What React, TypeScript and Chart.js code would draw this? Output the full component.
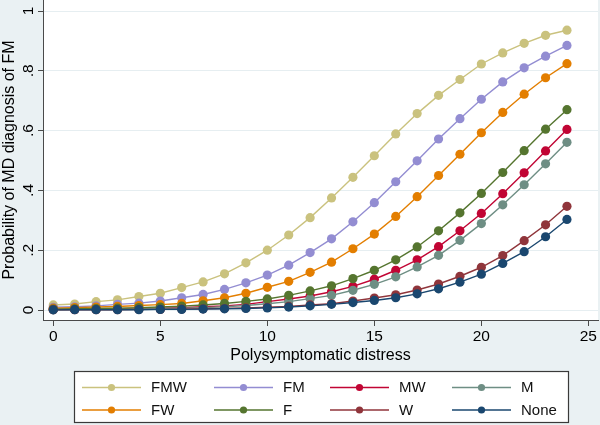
import React, { useEffect, useRef } from "react";
import { Chart, registerables } from "chart.js";

Chart.register(...registerables);

const distress = [0, 1, 2, 3, 4, 5, 6, 7, 8, 9, 10, 11, 12, 13, 14, 15, 16, 17, 18, 19, 20, 21, 22, 23, 24];

const fmw = [0.017, 0.020, 0.028, 0.034, 0.045, 0.056, 0.075, 0.094, 0.121, 0.158, 0.200, 0.251, 0.309, 0.375, 0.444, 0.516, 0.589, 0.657, 0.718, 0.771, 0.823, 0.860, 0.892, 0.919, 0.936];
const fm = [0.009, 0.011, 0.014, 0.019, 0.023, 0.030, 0.041, 0.052, 0.069, 0.091, 0.117, 0.150, 0.192, 0.238, 0.295, 0.359, 0.429, 0.499, 0.572, 0.640, 0.705, 0.763, 0.810, 0.849, 0.885];
const mw = [0.002, 0.002, 0.003, 0.004, 0.005, 0.006, 0.008, 0.011, 0.014, 0.019, 0.028, 0.037, 0.047, 0.061, 0.079, 0.103, 0.133, 0.168, 0.212, 0.265, 0.323, 0.389, 0.459, 0.532, 0.604];
const m = [0.001, 0.002, 0.002, 0.003, 0.004, 0.005, 0.006, 0.008, 0.011, 0.015, 0.021, 0.028, 0.038, 0.049, 0.066, 0.086, 0.111, 0.144, 0.183, 0.233, 0.289, 0.352, 0.419, 0.489, 0.561];
const fw = [0.006, 0.008, 0.010, 0.012, 0.015, 0.018, 0.022, 0.031, 0.041, 0.056, 0.076, 0.096, 0.126, 0.160, 0.205, 0.254, 0.313, 0.379, 0.450, 0.521, 0.593, 0.661, 0.722, 0.777, 0.824];
const f = [0.003, 0.004, 0.005, 0.006, 0.008, 0.010, 0.013, 0.017, 0.022, 0.029, 0.037, 0.049, 0.064, 0.081, 0.105, 0.133, 0.168, 0.211, 0.265, 0.325, 0.390, 0.460, 0.533, 0.605, 0.670];
const w = [0.001, 0.001, 0.001, 0.001, 0.002, 0.002, 0.003, 0.004, 0.005, 0.007, 0.009, 0.012, 0.017, 0.021, 0.030, 0.040, 0.051, 0.067, 0.087, 0.113, 0.143, 0.182, 0.232, 0.285, 0.347];
const none = [0.0005, 0.001, 0.001, 0.001, 0.001, 0.002, 0.002, 0.003, 0.004, 0.005, 0.007, 0.010, 0.014, 0.019, 0.025, 0.032, 0.041, 0.054, 0.071, 0.093, 0.120, 0.156, 0.195, 0.245, 0.303];

const seriesLabels = ["FMW", "FM", "MW", "M", "FW", "F", "W", "None"];
const seriesValues = [fmw, fm, mw, m, fw, f, w, none];
const seriesColors = ["#cac27e", "#938dd2", "#c10534", "#6e8e84", "#e37e00", "#55752f", "#90353b", "#1a476f"];

const xTicks = [0, 5, 10, 15, 20, 25];
const yTicks = [0, 0.2, 0.4, 0.6, 0.8, 1];
const yTickLabels = ["0", ".2", ".4", ".6", ".8", "1"];

const xTitle = "Polysymptomatic distress";
const yTitle = "Probability of MD diagnosis of FM";

const FONT = "'Liberation Sans', Arial, Helvetica, sans-serif";
const BG = "#eaf1f3";
const AXIS = "#4a4a4a";

const bgPlugin = {
  id: "stataBg",
  beforeDraw(chart: any) {
    const { ctx, chartArea: a, width, height } = chart;
    ctx.save();
    ctx.fillStyle = BG;
    ctx.fillRect(0, 0, width, height);
    ctx.fillStyle = "#ffffff";
    ctx.fillRect(a.left, a.top, a.right - a.left, a.bottom - a.top);
    ctx.restore();
  },
};

const legendPlugin = {
  id: "stataLegend",
  afterDraw(chart: any) {
    const { ctx } = chart;
    const boxX = 74.5, boxY = 371.5, boxW = 494, boxH = 51;
    ctx.save();
    ctx.fillStyle = "#ffffff";
    ctx.fillRect(boxX, boxY, boxW, boxH);
    ctx.strokeStyle = "#3a3a3a";
    ctx.lineWidth = 1.2;
    ctx.strokeRect(boxX, boxY, boxW, boxH);
    const colStarts = [82, 214, 330, 452];
    const rows = [387.5, 410];
    const lineLen = 59;
    ctx.font = `15px ${FONT}`;
    ctx.textBaseline = "middle";
    ctx.textAlign = "left";
    chart.data.datasets.forEach((ds: any, i: number) => {
      const col = i % 4;
      const row = Math.floor(i / 4);
      const x0 = colStarts[col];
      const y = rows[row];
      ctx.strokeStyle = ds.borderColor;
      ctx.lineWidth = 1.5;
      ctx.beginPath();
      ctx.moveTo(x0, y);
      ctx.lineTo(x0 + lineLen, y);
      ctx.stroke();
      ctx.fillStyle = ds.borderColor;
      ctx.beginPath();
      ctx.arc(x0 + lineLen / 2, y, 3.6, 0, Math.PI * 2);
      ctx.fill();
      ctx.fillStyle = "#111";
      ctx.fillText(ds.label, x0 + lineLen + 10, y + 0.5);
    });
    ctx.restore();
  },
};

export default function App() {
  const canvasRef = useRef<HTMLCanvasElement | null>(null);

  useEffect(() => {
    document.body.style.margin = "0";
    const canvas = canvasRef.current;
    if (!canvas) return;
    const datasets = seriesLabels.map((label, i) => ({
      label,
      data: distress.map((x, j) => ({ x, y: seriesValues[i][j] })),
      borderColor: seriesColors[i],
      backgroundColor: seriesColors[i],
      pointBackgroundColor: seriesColors[i],
      pointBorderColor: seriesColors[i],
      pointBorderWidth: 0,
      pointRadius: 4.6,
      borderWidth: 1.4,
      tension: 0,
      order: 7 - i,
    }));

    const chart = new Chart(canvas, {
      type: "line",
      data: { datasets },
      options: {
        animation: false,
        responsive: false,
        devicePixelRatio: 1,
        layout: { autoPadding: false, padding: { left: 0, right: 2, top: 0, bottom: 59 } },
        plugins: {
          legend: { display: false },
          tooltip: { enabled: false },
        },
        scales: {
          x: {
            type: "linear",
            min: -0.48,
            max: 25.45,
            afterBuildTicks: (scale: any) => {
              scale.ticks = xTicks.map((v) => ({ value: v }));
            },
            afterFit: (scale: any) => {
              scale.height = 46;
              scale.paddingLeft = 0;
              scale.paddingRight = 0;
            },
            border: { display: true, color: AXIS, width: 1 },
            grid: {
              display: true,
              drawOnChartArea: false,
              drawTicks: true,
              tickLength: 6,
              tickColor: AXIS,
              tickWidth: 1,
            },
            ticks: {
              padding: 1,
              color: "#000",
              font: { family: FONT, size: 15.5 },
              maxRotation: 0,
              minRotation: 0,
              callback: (v: any) => String(v),
            },
            title: {
              display: true,
              text: xTitle,
              color: "#000",
              font: { family: FONT, size: 16 },
              padding: { top: 1, bottom: 1 },
            },
          },
          y: {
            type: "linear",
            min: -0.0334,
            max: 1.037,
            afterBuildTicks: (scale: any) => {
              scale.ticks = yTicks.map((v) => ({ value: v }));
            },
            afterFit: (scale: any) => {
              scale.width = 43;
              scale.paddingTop = 0;
              scale.paddingBottom = 0;
            },
            border: { display: true, color: AXIS, width: 1 },
            grid: {
              display: true,
              drawOnChartArea: true,
              color: "#e6eef1",
              lineWidth: 1,
              drawTicks: true,
              tickLength: 5,
              tickColor: AXIS,
              tickWidth: 1,
            },
            ticks: {
              padding: 3,
              color: "#000",
              font: { family: FONT, size: 15.5 },
              minRotation: 90,
              maxRotation: 90,
              crossAlign: "center",
              callback: (v: any) => {
                const idx = yTicks.indexOf(v);
                return idx >= 0 ? yTickLabels[idx] : "";
              },
            },
            title: {
              display: true,
              text: yTitle,
              color: "#000",
              font: { family: FONT, size: 16 },
              padding: { top: 0, bottom: 0 },
            },
          },
        },
      },
      plugins: [bgPlugin, legendPlugin],
    } as any);

    return () => {
      chart.destroy();
    };
  }, []);

  return (
    <div style={{ position: "absolute", left: 0, top: 0, width: 600, height: 425 }}>
      <canvas ref={canvasRef} width={600} height={425} style={{ display: "block", width: 600, height: 425 }} />
    </div>
  );
}
